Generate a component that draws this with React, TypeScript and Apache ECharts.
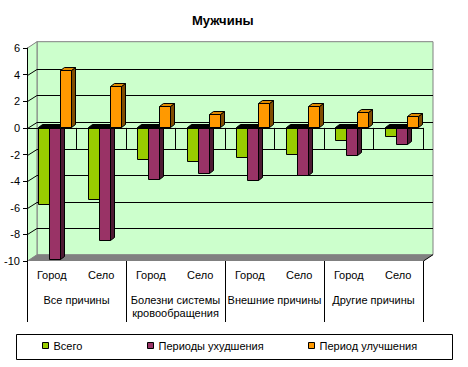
import React, { useEffect, useRef } from 'react';
import * as echarts from 'echarts';

const subCategories = ['Город', 'Село', 'Город', 'Село', 'Город', 'Село', 'Город', 'Село'];
const causeGroups = ['Все причины', 'Болезни системы\nкровообращения', 'Внешние причины', 'Другие причины'];
const seriesNames = ['Всего', 'Периоды ухудшения', 'Период улучшения'];
const totalValues = [-5.8, -5.4, -2.4, -2.6, -2.3, -2.0, -1.0, -0.65];
const worseningValues = [-9.9, -8.5, -3.9, -3.5, -4.0, -3.6, -2.1, -1.3];
const improvementValues = [4.3, 3.1, 1.6, 1.0, 1.8, 1.6, 1.1, 0.8];
const yMin = -10;
const yMax = 6;
const yStep = 2;

const palette = [
  { front: '#99CC00', side: '#4D6600', top: '#7AA300' },
  { front: '#993366', side: '#4D1A33', top: '#7A2952' },
  { front: '#FF9900', side: '#804D00', top: '#E08A00' },
];

const FONT = 'Arial, "Liberation Sans", sans-serif';
const WALL_DX = 9.5;
const WALL_DY = 6.3;
const BAR_DX = 4;
const BAR_DY = 3;

export default function App() {
  const ref = useRef<HTMLDivElement>(null);

  useEffect(() => {
    if (!ref.current) return;
    const chart = echarts.init(ref.current, null, { renderer: 'svg' });
    const allValues = [totalValues, worseningValues, improvementValues];

    const barSeries = allValues.map((vals, k) => ({
      type: 'custom',
      name: seriesNames[k],
      xAxisIndex: 0,
      yAxisIndex: 0,
      z: 3,
      itemStyle: { color: palette[k].front, borderColor: '#000', borderWidth: 1 },
      data: vals.map((v, i) => [i, v]),
      encode: { x: 0, y: 1 },
      renderItem: (params: any, api: any) => {
        const cat = api.value(0);
        const val = api.value(1);
        const base = api.coord([cat, 0]);
        const end = api.coord([cat, val]);
        const band = api.size([1, 0])[0];
        const w = band * (11 / 49.5);
        const x0 = Math.round(base[0] - 1.5 * w + band * 0.056 + k * w) + 0.5;
        const x1 = Math.round(x0 + w - 0.5) + 0.5;
        const yA = Math.round(base[1] - 1) + 0.5;
        const yB = Math.round(end[1] - 1) + 0.5;
        const top = Math.min(yA, yB);
        const bot = Math.max(yA, yB);
        const topColor = val < 0 ? '#000000' : palette[k].top;
        const st = { stroke: '#000', lineWidth: 1 };
        return {
          type: 'group',
          children: [
            {
              type: 'polygon',
              shape: { points: [[x1, top], [x1 + BAR_DX, top - BAR_DY], [x1 + BAR_DX, bot - BAR_DY], [x1, bot]] },
              style: { ...st, fill: palette[k].side },
            },
            {
              type: 'polygon',
              shape: { points: [[x0, top], [x1, top], [x1 + BAR_DX, top - BAR_DY], [x0 + BAR_DX, top - BAR_DY]] },
              style: { ...st, fill: topColor },
            },
            {
              type: 'rect',
              shape: { x: x0, y: top, width: x1 - x0, height: bot - top },
              style: { ...st, fill: palette[k].front },
            },
          ],
        };
      },
    }));

    const wallSeries = {
      type: 'custom',
      name: 'walls',
      silent: true,
      xAxisIndex: 0,
      yAxisIndex: 0,
      z: 1,
      data: [[0, 0]],
      encode: { x: 0, y: 1 },
      renderItem: (params: any, api: any) => {
        const band = api.size([1, 0])[0];
        const xl = Math.round(api.coord([0, 0])[0] - band / 2) + 0.5;
        const xr = Math.round(api.coord([subCategories.length - 1, 0])[0] + band / 2) + 0.5;
        const yT = api.coord([0, yMax])[1];
        const yBt = api.coord([0, yMin])[1];
        const y0 = Math.round(api.coord([0, 0])[1]) + 0.5;
        const children: any[] = [];
        children.push({
          type: 'rect',
          shape: { x: xl + WALL_DX, y: yT - WALL_DY, width: xr - xl, height: yBt - yT },
          style: { fill: '#CCFFCC', stroke: '#808080', lineWidth: 1 },
        });
        children.push({
          type: 'polygon',
          shape: { points: [[xl, yT], [xl + WALL_DX, yT - WALL_DY], [xl + WALL_DX, yBt - WALL_DY], [xl, yBt]] },
          style: { fill: '#CCFFCC', stroke: '#808080', lineWidth: 1 },
        });
        for (let v = yMin + yStep; v < yMax; v += yStep) {
          const y = Math.round(api.coord([0, v])[1]) + 0.5;
          const yb = Math.round(y - WALL_DY);
          children.push({
            type: 'line',
            shape: { x1: xl + WALL_DX, y1: yb + 0.5, x2: xr + WALL_DX, y2: yb + 0.5 },
            style: { stroke: '#000', lineWidth: 1 },
          });
          children.push({
            type: 'line',
            shape: { x1: xl, y1: y, x2: xl + WALL_DX, y2: yb + 0.5 },
            style: { stroke: '#000', lineWidth: 1 },
          });
        }
        children.push({
          type: 'polygon',
          shape: { points: [[xl, yBt], [xl + WALL_DX, yBt - WALL_DY], [xr + WALL_DX, yBt - WALL_DY], [xr, yBt]] },
          style: { fill: '#808080', stroke: null },
        });
        children.push({
          type: 'line',
          shape: { x1: xr, y1: yBt, x2: xr + WALL_DX, y2: yBt - WALL_DY },
          style: { stroke: '#000', lineWidth: 1 },
        });
        children.push({
          type: 'line',
          shape: { x1: xl, y1: y0, x2: xr, y2: y0 },
          style: { stroke: '#000', lineWidth: 1 },
        });
        return { type: 'group', children };
      },
    };

    const legendBase = {
      orient: 'horizontal',
      top: 340,
      padding: 0,
      icon: 'rect',
      itemWidth: 6,
      itemHeight: 6,
      itemStyle: { borderColor: '#000', borderWidth: 1 },
      textStyle: { fontFamily: FONT, fontSize: 11, color: '#000' },
      selectedMode: false,
    };

    chart.setOption({
      animation: false,
      backgroundColor: '#fff',
      title: {
        text: 'Мужчины',
        left: 192,
        top: 14,
        padding: 0,
        textStyle: { fontFamily: FONT, fontSize: 13, fontWeight: 'bold', color: '#000' },
      },
      legend: [
        { ...legendBase, data: [seriesNames[0]], left: 42 },
        { ...legendBase, data: [seriesNames[1]], left: 147 },
        { ...legendBase, data: [seriesNames[2]], left: 308 },
      ],
      graphic: [
        {
          type: 'rect',
          shape: { x: 16.5, y: 334.5, width: 436, height: 25 },
          style: { fill: 'none', stroke: '#000', lineWidth: 1 },
        },
      ],
      grid: { left: 27, top: 48, width: 396, height: 213, containLabel: false },
      xAxis: [
        {
          type: 'category',
          data: subCategories,
          position: 'bottom',
          z: 10,
          axisLine: { show: true, lineStyle: { color: '#000', width: 1 } },
          axisTick: { show: true, interval: 0, length: 22, lineStyle: { color: '#000' } },
          axisLabel: { interval: 0, margin: 8, fontFamily: FONT, fontSize: 11, color: '#000' },
          splitLine: { show: false },
        },
        {
          type: 'category',
          data: causeGroups,
          position: 'bottom',
          offset: 0,
          z: 10,
          axisLine: { show: false },
          axisTick: { show: true, interval: 0, length: 61, lineStyle: { color: '#000' } },
          axisLabel: { interval: 0, margin: 32, fontFamily: FONT, fontSize: 11, color: '#000', lineHeight: 13 },
          splitLine: { show: false },
        },
      ],
      yAxis: {
        type: 'value',
        min: yMin,
        max: yMax,
        interval: yStep,
        z: 10,
        axisLine: { show: true, lineStyle: { color: '#000', width: 1 } },
        axisTick: { show: true, length: 4, lineStyle: { color: '#000' } },
        axisLabel: { margin: 7, fontFamily: FONT, fontSize: 11, color: '#000' },
        splitLine: { show: false },
      },
      series: [wallSeries, ...barSeries],
    });

    return () => chart.dispose();
  }, []);

  return (
    <div
      ref={ref}
      style={{ position: 'fixed', left: 0, top: 0, width: 468, height: 367, background: '#fff' }}
    />
  );
}
